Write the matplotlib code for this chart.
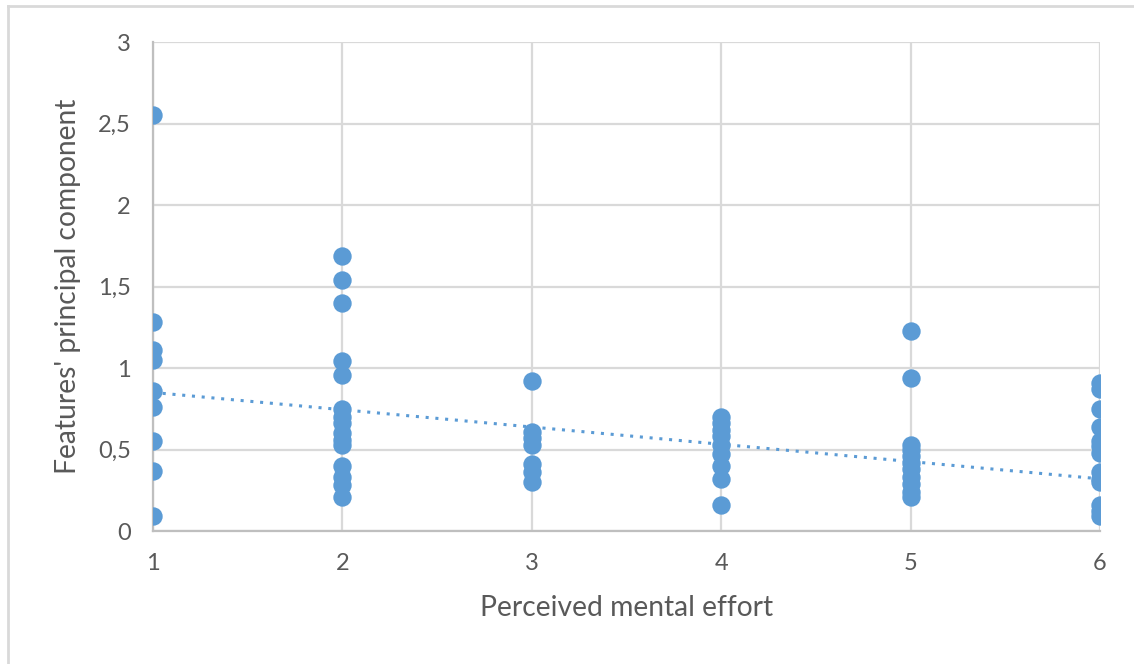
import numpy as np
import matplotlib.pyplot as plt
from matplotlib.lines import Line2D

# perceived mental effort (x) and principal component values
effort_levels = [1, 2, 3, 4, 5, 6]
pc_effort1 = [2.55, 1.28, 1.11, 1.05, 0.86, 0.76, 0.55, 0.37, 0.09]
pc_effort2 = [1.69, 1.54, 1.40, 1.04, 0.96, 0.75, 0.70, 0.66, 0.60, 0.56, 0.53,
              0.40, 0.33, 0.28, 0.21]
pc_effort3 = [0.92, 0.61, 0.57, 0.53, 0.41, 0.36, 0.30]
pc_effort4 = [0.70, 0.66, 0.62, 0.58, 0.53, 0.47, 0.40, 0.32, 0.16]
pc_effort5 = [1.23, 0.94, 0.53, 0.50, 0.46, 0.42, 0.38, 0.33, 0.29, 0.24, 0.21]
pc_effort6 = [0.91, 0.87, 0.75, 0.64, 0.55, 0.52, 0.48, 0.36, 0.32, 0.30,
              0.16, 0.12, 0.09]

# linear trendline as drawn in the chart (value at x=1 and at x=6)
trend_ends = [0.85, 0.32]

y_ticks = [0, 0.5, 1, 1.5, 2, 2.5, 3]
y_tick_labels = ["0", "0,5", "1", "1,5", "2", "2,5", "3"]

plt.rcParams['font.family'] = ['Lato', 'DejaVu Sans']

columns = [pc_effort1, pc_effort2, pc_effort3, pc_effort4, pc_effort5, pc_effort6]
xs = []
ys = []
for level, vals in zip(effort_levels, columns):
    xs += [level] * len(vals)
    ys += vals

fig = plt.figure(figsize=(11.34, 6.64), dpi=100)
ax = fig.add_axes([0.1349, 0.2003, 0.8352, 0.7364])

blue = "#5b9bd5"
grey_text = "#595959"
ax.scatter(xs, ys, s=175, color=blue, zorder=3, linewidths=0)

ax.plot([effort_levels[0], effort_levels[-1]], trend_ends, color=blue,
        linestyle=(0, (1, 2.2)), linewidth=2.2, zorder=2)

ax.set_xlim(1, 6)
ax.set_ylim(0, 3)
ax.set_xticks(effort_levels)
ax.set_yticks(y_ticks)
ax.set_yticklabels(y_tick_labels)
ax.grid(True, color="#d9d9d9", linewidth=1.6, zorder=0)
ax.set_axisbelow(True)
for side in ["top", "right"]:
    ax.spines[side].set_visible(False)
for side in ["left", "bottom"]:
    ax.spines[side].set_color("#bfbfbf")
    ax.spines[side].set_linewidth(1.6)
ax.tick_params(length=0, labelsize=17, labelcolor=grey_text, pad=16)

ax.set_xlabel("Perceived mental effort", fontsize=20.3, color=grey_text, labelpad=15)
ax.set_ylabel("Features' principal component", fontsize=20.3, color=grey_text,
              labelpad=12)

# chart area border (left and top edges visible)
fig.add_artist(Line2D([8 / 1134, 8 / 1134], [0, 1 - 6 / 664],
                      transform=fig.transFigure, color="#d9d9d9", linewidth=2))
fig.add_artist(Line2D([8 / 1134, 1], [1 - 6 / 664, 1 - 6 / 664],
                      transform=fig.transFigure, color="#d9d9d9", linewidth=2))

fig.savefig("out.png", dpi=100)
